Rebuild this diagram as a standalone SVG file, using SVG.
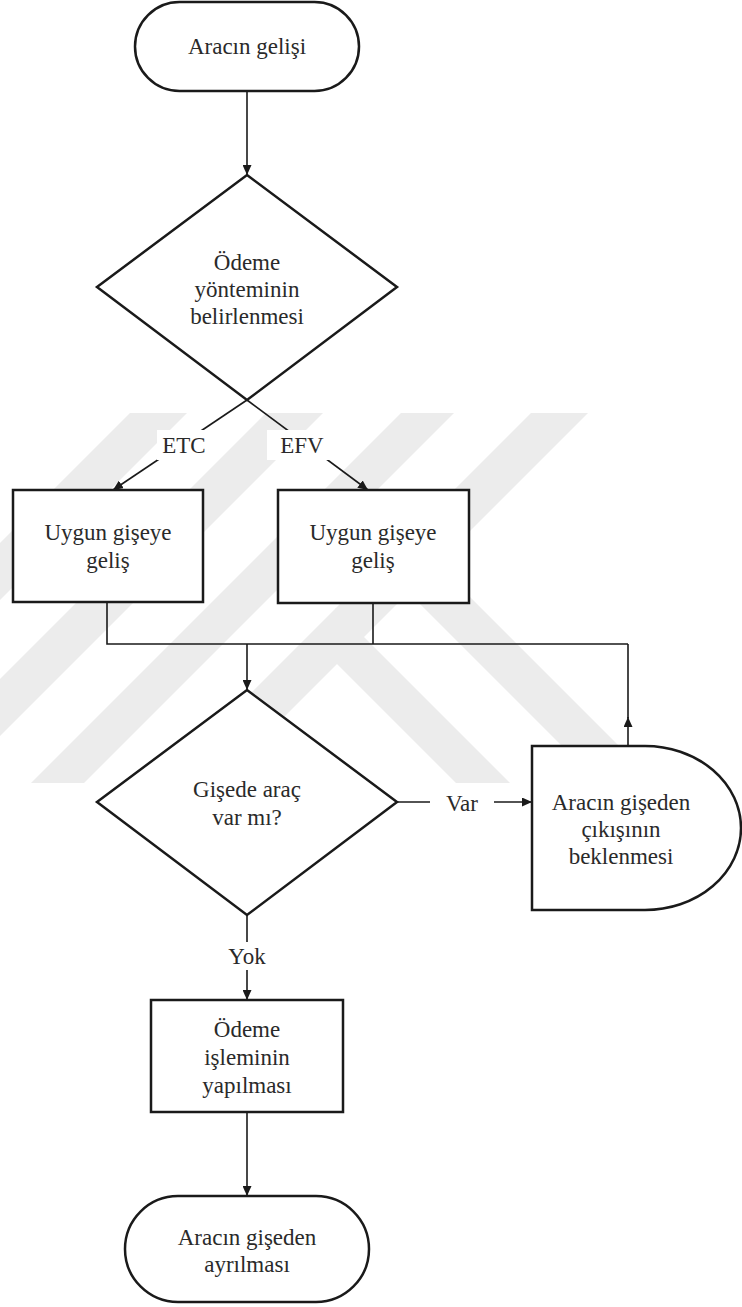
<svg xmlns="http://www.w3.org/2000/svg" width="742" height="1307" viewBox="0 0 742 1307">
<style>
.shape{fill:#ffffff;stroke:#1a1a1a;stroke-width:2.5}
.conn{fill:none;stroke:#1a1a1a;stroke-width:1.6}
.lbl{font-family:"Liberation Serif","Times New Roman",serif;font-size:23px;fill:#2a2a2a;text-anchor:middle}
.lblbg{fill:#ffffff;stroke:none}
.wm{fill:#ececec;stroke:none}
</style>
<defs>
<marker id="arr" markerUnits="userSpaceOnUse" markerWidth="11" markerHeight="9" refX="10" refY="4.5" orient="auto">
<path d="M0,0 L10,4.5 L0,9 Z" fill="#1a1a1a"/>
</marker>
</defs>
<rect x="0" y="0" width="742" height="1307" fill="#ffffff"/>
<g id="watermark">
<polygon class="wm" points="130,413 187,413 -183,783 -240,783"/>
<polygon class="wm" points="266,413 323,413 -47,783 -104,783"/>
<polygon class="wm" points="401,413 454,413 84,783 31,783"/>
<polygon class="wm" points="531,413 588,413 218,783 161,783"/>
<polygon class="wm" points="335,608 510,783 456,783 337,664"/>
<polygon class="wm" points="408,535 656,783 599,783 408,592"/>
</g>
<g id="connectors">
<line class="conn" x1="247" y1="91" x2="247" y2="175" marker-end="url(#arr)"/>
<line class="conn" x1="247" y1="400" x2="113" y2="490" marker-end="url(#arr)"/>
<line class="conn" x1="247" y1="400" x2="368" y2="490" marker-end="url(#arr)"/>
<polyline class="conn" points="107,602 107,644 628,644"/>
<line class="conn" x1="373" y1="603" x2="373" y2="644"/>
<line class="conn" x1="247" y1="644" x2="247" y2="690" marker-end="url(#arr)"/>
<line class="conn" x1="628" y1="746" x2="628" y2="717" marker-end="url(#arr)"/>
<line class="conn" x1="628" y1="718" x2="628" y2="644"/>
<line class="conn" x1="397" y1="802" x2="532" y2="802" marker-end="url(#arr)"/>
<line class="conn" x1="247" y1="915" x2="247" y2="1000" marker-end="url(#arr)"/>
<line class="conn" x1="247" y1="1112" x2="247" y2="1196" marker-end="url(#arr)"/>
<g id="label-etc"><rect class="lblbg" x="157" y="430" width="56" height="30"/><text class="lbl" x="184" y="453">ETC</text></g>
<g id="label-efv"><rect class="lblbg" x="267" y="430" width="68" height="30"/><text class="lbl" x="302" y="453">EFV</text></g>
<g id="label-var"><rect class="lblbg" x="430" y="789" width="64" height="28"/><text class="lbl" x="462" y="811">Var</text></g>
<g id="label-yok"><rect class="lblbg" x="211" y="942" width="73" height="28"/><text class="lbl" x="247" y="964">Yok</text></g>
</g>
<g id="start">
<rect class="shape" x="135" y="2" width="224" height="89" rx="44.5" ry="44.5"/>
<text class="lbl" x="247" y="54">Aracın gelişi</text>
</g>
<g id="decision-payment">
<polygon class="shape" points="247,175 397,287 247,400 97,287"/>
<text class="lbl" x="247" y="270">Ödeme</text>
<text class="lbl" x="247" y="297">yönteminin</text>
<text class="lbl" x="247" y="324">belirlenmesi</text>
</g>
<g id="box-etc">
<rect class="shape" x="13" y="490" width="190" height="112"/>
<text class="lbl" x="108" y="540">Uygun gişeye</text>
<text class="lbl" x="108" y="568">geliş</text>
</g>
<g id="box-efv">
<rect class="shape" x="278" y="490" width="191" height="113"/>
<text class="lbl" x="373" y="540">Uygun gişeye</text>
<text class="lbl" x="373" y="568">geliş</text>
</g>
<g id="decision-booth">
<polygon class="shape" points="247,690 397,802 247,915 97,802"/>
<text class="lbl" x="247" y="797">Gişede araç</text>
<text class="lbl" x="247" y="825">var mı?</text>
</g>
<g id="delay-wait">
<path class="shape" d="M532,746 H645 A96,82 0 0 1 645,910 H532 Z"/>
<text class="lbl" x="621" y="810">Aracın gişeden</text>
<text class="lbl" x="621" y="837">çıkışının</text>
<text class="lbl" x="621" y="864">beklenmesi</text>
</g>
<g id="box-payment">
<rect class="shape" x="151" y="1000" width="192" height="112"/>
<text class="lbl" x="247" y="1037">Ödeme</text>
<text class="lbl" x="247" y="1065">işleminin</text>
<text class="lbl" x="247" y="1093">yapılması</text>
</g>
<g id="end">
<rect class="shape" x="125" y="1196" width="244" height="106" rx="53" ry="53"/>
<text class="lbl" x="247" y="1245">Aracın gişeden</text>
<text class="lbl" x="247" y="1272">ayrılması</text>
</g>
</svg>
